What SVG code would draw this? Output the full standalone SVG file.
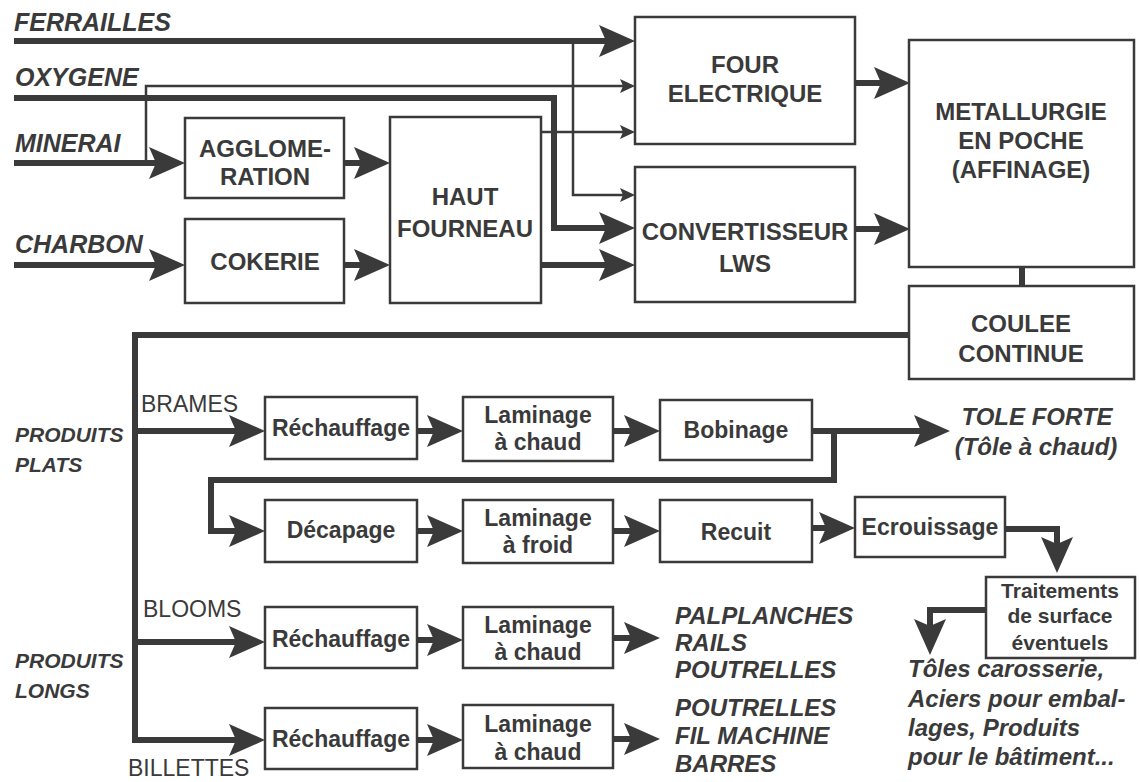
<svg xmlns="http://www.w3.org/2000/svg" width="1140" height="782" viewBox="0 0 1140 782">
<style>
.bg{fill:#ffffff}
.box{fill:none;stroke:#3a3a3a;stroke-width:2.5}
.thick{fill:none;stroke:#3a3a3a;stroke-width:6}
.thin{fill:none;stroke:#3a3a3a;stroke-width:2.5}
text{font-family:"Liberation Sans",Arial,sans-serif;fill:#3a3a3a}
.bt{font-weight:bold;font-size:24px;text-anchor:middle}
.st{font-weight:bold;font-size:23px;text-anchor:middle}
.tt{font-weight:bold;font-size:21px;text-anchor:middle}
.lab{font-weight:bold;font-style:italic;font-size:25px}
.pl{font-weight:bold;font-style:italic;font-size:21px}
.prod{font-weight:bold;font-style:italic;font-size:24px}
.reg{font-size:23px}
</style>
<defs>
<marker id="big" viewBox="0 -17 37 34" refX="7" refY="0" markerWidth="37" markerHeight="34" markerUnits="userSpaceOnUse" orient="auto">
<path d="M0,-16 L36,0 L0,16 L7,0 Z" fill="#3a3a3a"/>
</marker>
<marker id="small" viewBox="0 -8 16 16" refX="3" refY="0" markerWidth="16" markerHeight="16" markerUnits="userSpaceOnUse" orient="auto">
<path d="M0,-7 L15,0 L0,7 L3,0 Z" fill="#3a3a3a"/>
</marker>
</defs>
<rect class="bg" x="0" y="0" width="1140" height="782"/>

<g id="connectors">
<path class="thick" d="M14,41 H606" marker-end="url(#big)"/>
<path class="thick" d="M14,98 H554 V228 H606" marker-end="url(#big)"/>
<path class="thick" d="M14,163 H156" marker-end="url(#big)"/>
<path class="thick" d="M14,265 H156" marker-end="url(#big)"/>
<path class="thick" d="M345,163 H361" marker-end="url(#big)"/>
<path class="thick" d="M345,265 H361" marker-end="url(#big)"/>
<path class="thick" d="M541,265 H606" marker-end="url(#big)"/>
<path class="thick" d="M855,83 H881" marker-end="url(#big)"/>
<path class="thick" d="M855,229 H881" marker-end="url(#big)"/>
<path class="thick" d="M1022,268 V286"/>
<path class="thick" d="M908,335 H135 V740 H236" marker-end="url(#big)"/>
<path class="thick" d="M135,431 H236" marker-end="url(#big)"/>
<path class="thick" d="M135,642 H236" marker-end="url(#big)"/>
<path class="thick" d="M417,431 H434" marker-end="url(#big)"/>
<path class="thick" d="M613,431 H631" marker-end="url(#big)"/>
<path class="thick" d="M812,431 H921" marker-end="url(#big)"/>
<path class="thick" d="M834,431 V480 H211 V531 H236" marker-end="url(#big)"/>
<path class="thick" d="M417,531 H434" marker-end="url(#big)"/>
<path class="thick" d="M613,531 H631" marker-end="url(#big)"/>
<path class="thick" d="M812,528 H826" marker-end="url(#big)"/>
<path class="thick" d="M1005,529 H1057 V544" marker-end="url(#big)"/>
<path class="thick" d="M986,610 H930 V626" marker-end="url(#big)"/>
<path class="thick" d="M417,640 H434" marker-end="url(#big)"/>
<path class="thick" d="M613,638 H631" marker-end="url(#big)"/>
<path class="thick" d="M417,740 H434" marker-end="url(#big)"/>
<path class="thick" d="M613,739 H631" marker-end="url(#big)"/>
<path class="thin" d="M146,163 V86 H623" marker-end="url(#small)"/>
<path class="thin" d="M573,41 V195 H623" marker-end="url(#small)"/>
<path class="thin" d="M541,132 H623" marker-end="url(#small)"/>
</g>

<g id="labels">
<text class="lab" x="14" y="31">FERRAILLES</text>
<text class="lab" x="15" y="86">OXYGENE</text>
<text class="lab" x="15" y="152">MINERAI</text>
<text class="lab" x="15" y="253">CHARBON</text>
<text class="pl" x="15" y="442">PRODUITS</text>
<text class="pl" x="15" y="472">PLATS</text>
<text class="pl" x="15" y="668">PRODUITS</text>
<text class="pl" x="15" y="698">LONGS</text>
<text class="reg" x="141" y="412">BRAMES</text>
<text class="reg" x="143" y="617">BLOOMS</text>
<text class="reg" x="128" y="776">BILLETTES</text>
</g>

<g id="four-electrique">
<rect class="box" x="635" y="17" width="220" height="127"/>
<text class="bt" x="745" y="73">FOUR</text>
<text class="bt" x="745" y="102">ELECTRIQUE</text>
</g>
<g id="metallurgie">
<rect class="box" x="909" y="40" width="225" height="227"/>
<text class="bt" x="1021" y="120">METALLURGIE</text>
<text class="bt" x="1021" y="149">EN POCHE</text>
<text class="bt" x="1021" y="178">(AFFINAGE)</text>
</g>
<g id="agglomeration">
<rect class="box" x="185" y="118" width="159" height="80"/>
<text class="bt" x="265" y="157">AGGLOME-</text>
<text class="bt" x="265" y="185">RATION</text>
</g>
<g id="cokerie">
<rect class="box" x="185" y="219" width="159" height="84"/>
<text class="bt" x="265" y="270">COKERIE</text>
</g>
<g id="haut-fourneau">
<rect class="box" x="390" y="117" width="151" height="186"/>
<text class="bt" x="465" y="205">HAUT</text>
<text class="bt" x="465" y="237">FOURNEAU</text>
</g>
<g id="convertisseur">
<rect class="box" x="635" y="167" width="220" height="135"/>
<text class="bt" x="745" y="240">CONVERTISSEUR</text>
<text class="bt" x="745" y="272">LWS</text>
</g>
<g id="coulee">
<rect class="box" x="909" y="286" width="225" height="93"/>
<text class="bt" x="1021" y="332">COULEE</text>
<text class="bt" x="1021" y="362">CONTINUE</text>
</g>

<g id="rechauffage1">
<rect class="box" x="265" y="397" width="152" height="62"/>
<text class="st" x="341" y="436">Réchauffage</text>
</g>
<g id="laminage1">
<rect class="box" x="463" y="397" width="150" height="64"/>
<text class="st" x="538" y="423">Laminage</text>
<text class="st" x="538" y="450">à chaud</text>
</g>
<g id="bobinage">
<rect class="box" x="660" y="400" width="152" height="60"/>
<text class="st" x="736" y="438">Bobinage</text>
</g>
<g id="tole-forte">
<text class="prod" x="1037" y="425" text-anchor="middle">TOLE FORTE</text>
<text class="prod" x="1036" y="455" text-anchor="middle">(Tôle à chaud)</text>
</g>

<g id="decapage">
<rect class="box" x="265" y="500" width="152" height="62"/>
<text class="st" x="341" y="538">Décapage</text>
</g>
<g id="laminage-froid">
<rect class="box" x="463" y="500" width="150" height="63"/>
<text class="st" x="538" y="526">Laminage</text>
<text class="st" x="538" y="553">à froid</text>
</g>
<g id="recuit">
<rect class="box" x="660" y="500" width="152" height="62"/>
<text class="st" x="736" y="540">Recuit</text>
</g>
<g id="ecrouissage">
<rect class="box" x="855" y="497" width="150" height="60"/>
<text class="st" x="930" y="535">Ecrouissage</text>
</g>
<g id="traitements">
<rect class="box" x="986" y="577" width="149" height="81"/>
<text class="tt" x="1060" y="598">Traitements</text>
<text class="tt" x="1060" y="623">de surface</text>
<text class="tt" x="1060" y="650">éventuels</text>
</g>
<g id="toles">
<text class="prod" x="908" y="677">Tôles carosserie,</text>
<text class="prod" x="908" y="707">Aciers pour embal-</text>
<text class="prod" x="908" y="736">lages, Produits</text>
<text class="prod" x="908" y="765">pour le bâtiment...</text>
</g>

<g id="rechauffage-blooms">
<rect class="box" x="265" y="607" width="152" height="61"/>
<text class="st" x="341" y="647">Réchauffage</text>
</g>
<g id="laminage-blooms">
<rect class="box" x="463" y="607" width="150" height="61"/>
<text class="st" x="538" y="633">Laminage</text>
<text class="st" x="538" y="660">à chaud</text>
</g>
<g id="produits-blooms">
<text class="prod" x="675" y="624">PALPLANCHES</text>
<text class="prod" x="675" y="651">RAILS</text>
<text class="prod" x="675" y="678">POUTRELLES</text>
</g>

<g id="rechauffage-billettes">
<rect class="box" x="265" y="708" width="152" height="61"/>
<text class="st" x="341" y="747">Réchauffage</text>
</g>
<g id="laminage-billettes">
<rect class="box" x="463" y="705" width="150" height="63"/>
<text class="st" x="538" y="732">Laminage</text>
<text class="st" x="538" y="760">à chaud</text>
</g>
<g id="produits-billettes">
<text class="prod" x="675" y="716">POUTRELLES</text>
<text class="prod" x="675" y="744">FIL MACHINE</text>
<text class="prod" x="675" y="772">BARRES</text>
</g>
</svg>
